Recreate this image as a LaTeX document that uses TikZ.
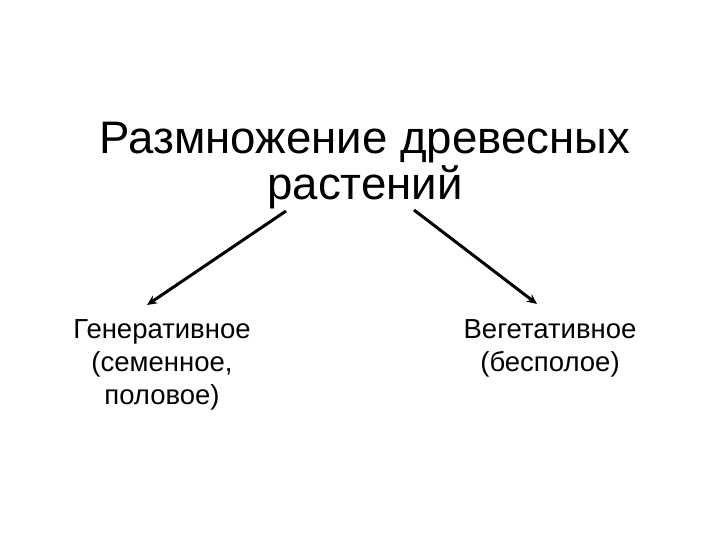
\documentclass[tikz,border=0pt]{standalone}
\usepackage{fontspec}
\setmainfont{Liberation Sans}
\usetikzlibrary{arrows.meta}
\tikzset{
	titletext/.style={align=center, font=\fontsize{45.6bp}{46bp}\selectfont, inner sep=0pt},
	kindtext/.style={align=center, font=\fontsize{27.5bp}{33bp}\selectfont, inner sep=0pt},
	branch/.style={line width=3bp, -{Stealth[length=10bp, width=9bp]}}
}

\begin{document}
\begin{tikzpicture}[x=1bp, y=-1bp]
		%%%%% START %%%%%
		
		\useasboundingbox (0, 0) rectangle (720, 540);
		
		\node[titletext] (title) at (365, 166) {Размножение древесных\\растений};
		
		\node[kindtext] (gen) at (162, 365) {Генеративное\\(семенное,\\половое)};
		\node[kindtext] (veg) at (550, 348) {Вегетативное\\(бесполое)};
		
		\coordinate (genstart) at (286, 211);
		\coordinate (genend) at (147, 305);
		\coordinate (vegstart) at (414, 210);
		\coordinate (vegend) at (537, 304);
		
		\draw[branch] (genstart) -- (genend);
		\draw[branch] (vegstart) -- (vegend);
		
		%%%%% END %%%%%
	\end{tikzpicture}
\end{document}
